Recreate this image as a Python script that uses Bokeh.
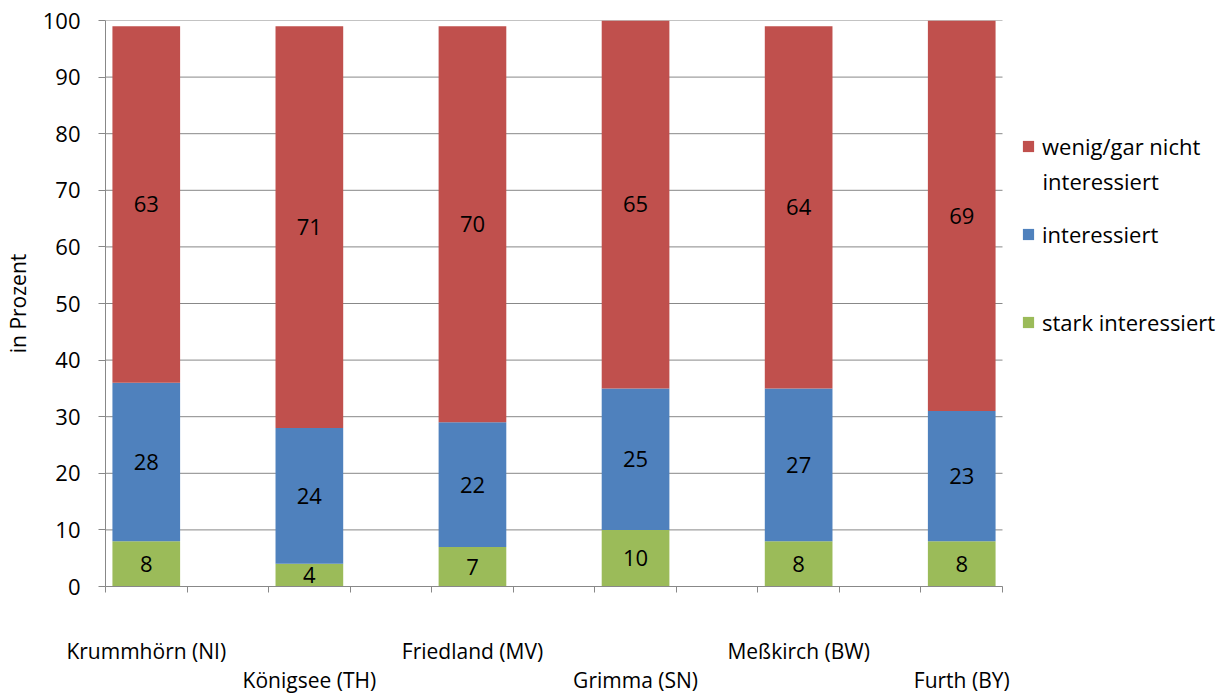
from bokeh.plotting import figure
from bokeh.models import (Range1d, FixedTicker, LinearAxis,
                          Legend, LegendItem, ColumnDataSource, LabelSet, Label)
from bokeh.core.properties import value
from bokeh.embed import file_html
from bokeh.resources import INLINE

# ---- data ----
places = ["Krummhörn (NI)", "Königsee (TH)", "Friedland (MV)",
          "Grimma (SN)", "Meßkirch (BW)", "Furth (BY)"]
stark = [8, 4, 7, 10, 8, 8]
inter = [28, 24, 22, 25, 27, 23]
wenig = [63, 71, 70, 65, 64, 69]
legend_labels = ["wenig/gar nicht", "interessiert", "stark interessiert"]
legend_second_line = "interessiert"
y_ticks = list(range(0, 101, 10))
y_title = "in Prozent"

# ---- styling ----
FONT = "Open Sans"
FS = "22px"
NUM_FS = "22px"
CAT_FS = "21px"
LEG_FS = "22px"
RED, BLUE, GREEN = "#C0504D", "#4F81BD", "#9BBB59"
GRAY = "#888888"
N_SLOTS = 11                # the original chart leaves an empty column between places
PLOT_W, FRAME_W = 897, 1126  # bar area width inside a wider frame that also holds the legend
X_END = N_SLOTS * FRAME_W / PLOT_W

slot = [2 * i for i in range(len(places))]
xc = [s + 0.5 for s in slot]
src = ColumnDataSource(dict(
    x=xc, stark=stark, inter=inter, wenig=wenig,
    y_s=[a / 2 for a in stark],
    y_i=[a + b / 2 for a, b in zip(stark, inter)],
    y_w=[a + b + c / 2 for a, b, c in zip(stark, inter, wenig)],
    t_s=[str(v) for v in stark], t_i=[str(v) for v in inter], t_w=[str(v) for v in wenig],
))

p = figure(frame_width=FRAME_W, frame_height=566, output_backend="svg", toolbar_location=None,
           x_range=Range1d(0, X_END), y_range=Range1d(0, 100),
           min_border_left=105, min_border_top=20, min_border_right=0,
           min_border_bottom=0, x_axis_type=None)
p.outline_line_color = None
p.xgrid.visible = False
p.ygrid.visible = False

# horizontal gridlines across the bar area only
p.segment(x0=[0] * len(y_ticks), x1=[N_SLOTS] * len(y_ticks), y0=y_ticks, y1=y_ticks,
          line_color=GRAY, line_width=1)

rs = p.vbar_stack(["stark", "inter", "wenig"], x="x", width=0.83,
                  color=[GREEN, BLUE, RED], line_color=None, source=src)

for ycol, tcol in (("y_s", "t_s"), ("y_i", "t_i"), ("y_w", "t_w")):
    p.add_layout(LabelSet(x="x", y=ycol, text=tcol, source=src, text_align="center",
                          text_baseline="middle", text_font=value(FONT),
                          text_font_size=FS, text_color="black"))

# y axis
ya = p.yaxis[0]
ya.ticker = FixedTicker(ticks=y_ticks)
ya.axis_line_color = GRAY
ya.major_tick_line_color = GRAY
ya.major_tick_out = 7
ya.major_tick_in = 0
ya.minor_tick_line_color = None
ya.major_label_text_font = FONT
ya.major_label_text_font_size = NUM_FS
ya.major_label_text_color = "black"
ya.major_label_standoff = 18
ya.axis_label = y_title
ya.axis_label_text_font = FONT
ya.axis_label_text_font_size = "21px"
ya.axis_label_text_font_style = "normal"
ya.axis_label_text_color = "black"
ya.axis_label_standoff = 8

# x axes: row 1 labels, boundary ticks drawn as minor ticks
row1 = [0, 2, 4]
row2 = [1, 3, 5]
xa1 = LinearAxis(ticker=FixedTicker(ticks=[xc[i] for i in row1],
                                    minor_ticks=list(range(N_SLOTS + 1))),
                 bounds=(0, N_SLOTS))
xa1.major_label_overrides = {xc[i]: places[i] for i in row1}
xa1.axis_line_color = GRAY
xa1.major_tick_line_color = None
xa1.major_tick_out = 0
xa1.major_tick_in = 0
xa1.minor_tick_line_color = GRAY
xa1.minor_tick_out = 6
xa1.minor_tick_in = 0
xa1.major_label_standoff = 44
xa1.major_label_text_font = FONT
xa1.major_label_text_font_size = CAT_FS
xa1.major_label_text_color = "black"
p.add_layout(xa1, "below")

xa2 = LinearAxis(ticker=FixedTicker(ticks=[xc[i] for i in row2], minor_ticks=[]))
xa2.major_label_overrides = {xc[i]: places[i] for i in row2}
xa2.axis_line_color = None
xa2.major_tick_line_color = None
xa2.minor_tick_line_color = None
xa2.major_tick_out = 0
xa2.major_tick_in = 0
xa2.major_label_standoff = -2
xa2.major_label_text_font = FONT
xa2.major_label_text_font_size = CAT_FS
xa2.major_label_text_color = "black"
p.add_layout(xa2, "below")

legend = Legend(items=[
    LegendItem(label=legend_labels[0], renderers=[rs[2]]),
    LegendItem(label=legend_labels[1], renderers=[rs[1]]),
    LegendItem(label=legend_labels[2], renderers=[rs[0]]),
], location=(PLOT_W + 19, 249))
legend.label_text_font = FONT
legend.label_text_font_size = LEG_FS
legend.label_text_color = "black"
legend.glyph_width = 14
legend.glyph_height = 14
legend.label_standoff = 7
legend.spacing = 58
legend.padding = 0
legend.margin = 0
legend.border_line_color = None
legend.background_fill_alpha = 0
p.add_layout(legend, "center")

p.add_layout(Label(x=N_SLOTS, y=100, x_offset=40, y_offset=-160, text=legend_second_line,
                   text_font=FONT, text_font_size=LEG_FS, text_color="black",
                   text_baseline="middle"))

open("out.html", "w").write(file_html(p, INLINE))
